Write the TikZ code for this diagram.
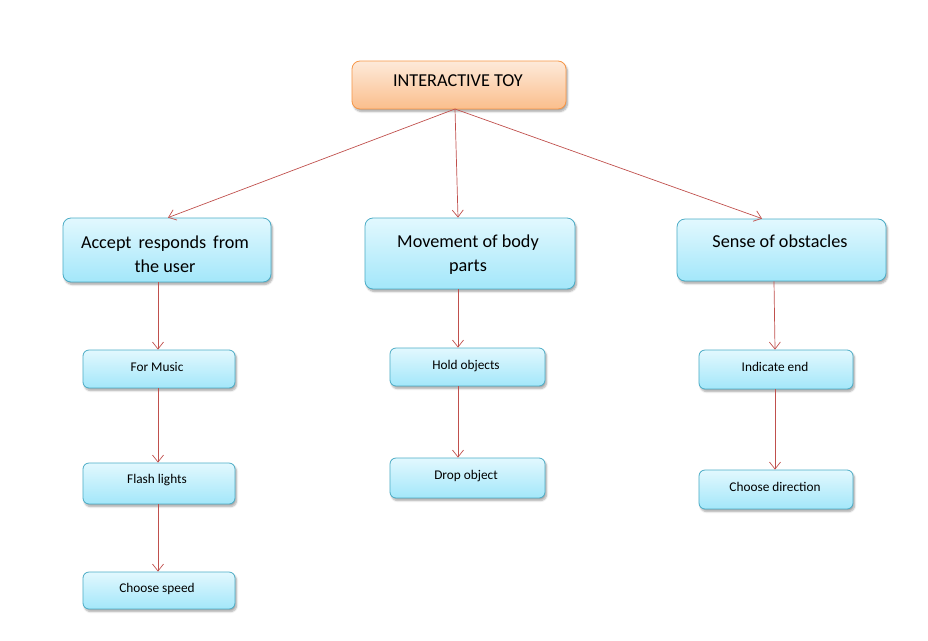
\documentclass[tikz,border=0pt]{standalone}
\usepackage{fontspec}
\setmainfont{Carlito}
\usetikzlibrary{arrows.meta,shadows.blur}
\definecolor{cyantop}{HTML}{E2F8FE}
\definecolor{cyanbot}{HTML}{A3E7FA}
\definecolor{cyanline}{HTML}{4BACC6}
\definecolor{orgtop}{HTML}{FDEADA}
\definecolor{orgbot}{HTML}{FBBE8C}
\definecolor{orgline}{HTML}{F79646}
\definecolor{linkred}{HTML}{C0504D}
\tikzset{
  box/.style={draw=cyanline, line width=0.8pt, rounded corners=8pt,
    top color=cyantop, bottom color=cyanbot,
    blur shadow={shadow xshift=1.5pt, shadow yshift=-2.5pt, shadow blur steps=6, shadow opacity=35},
    inner sep=0pt},
  small/.style={box, rounded corners=6pt, minimum width=152pt},
  rootbox/.style={box, draw=orgline, top color=orgtop, bottom color=orgbot},
  bigtxt/.style={font=\fontsize{18.2}{24}\selectfont, align=center, inner sep=0pt},
  smalltxt/.style={font=\fontsize{13.3}{15}\selectfont, inner sep=0pt},
  link/.style={draw=linkred, line width=0.7pt, -{Straight Barb[length=7pt,width=11pt]}}
}
\begin{document}
\begin{tikzpicture}[x=1pt,y=-1pt]
\useasboundingbox (0,0) rectangle (928,640);

% root
\node[rootbox, minimum width=214pt, minimum height=48pt] (root) at (459,85) {};
\node[bigtxt] (roott) at (458,81) {INTERACTIVE TOY};

% first level
\node[box, minimum width=208pt, minimum height=64pt] (l1) at (167,250) {};
\node[bigtxt] (l1t) at (165,254) {Accept\hspace{7pt}responds\hspace{7pt}from\\the user};
\node[box, minimum width=210pt, minimum height=71pt] (m1) at (470,253.5) {};
\node[bigtxt] (m1t) at (468,255) {Movement of body\\parts};
\node[box, minimum width=209pt, minimum height=62pt] (r1) at (781.5,250) {};
\node[bigtxt] (r1t) at (780,241) {Sense of obstacles};

% left branch
\node[small, minimum height=38pt] (l2) at (159,369) {};
\node[smalltxt] (l2t) at (157,367) {For Music};
\node[small, minimum height=41pt] (l3) at (159,483.5) {};
\node[smalltxt] (l3t) at (157,480) {Flash lights};
\node[small, minimum height=37pt] (l4) at (159,590.5) {};
\node[smalltxt] (l4t) at (157,589) {Choose speed};

% middle branch
\node[small, minimum width=155pt, minimum height=38pt] (m2) at (467.5,367) {};
\node[smalltxt] (m2t) at (466,366) {Hold objects};
\node[small, minimum width=155pt, minimum height=40pt] (m3) at (467.5,478) {};
\node[smalltxt] (m3t) at (466,476) {Drop object};

% right branch
\node[small, minimum width=154pt, minimum height=39pt] (r2) at (776,369.5) {};
\node[smalltxt] (r2t) at (775,367) {Indicate end};
\node[small, minimum width=154pt, minimum height=39pt] (r3) at (776,489.5) {};
\node[smalltxt] (r3t) at (775,487) {Choose direction};

% connectors
\coordinate (src) at (455,109);
\draw[link] (src) -- (l1.north -| 168,0);
\draw[link] (src) -- (m1.north -| 458,0);
\draw[link] (src) -- (r1.north -| 762,0);

\draw[link] (l1.south -| 158,0) -- (l2.north -| 158,0);
\draw[link] (l2.south -| 158,0) -- (l3.north -| 158,0);
\draw[link] (l3.south -| 158,0) -- (l4.north -| 158,0);

\draw[link] (m1.south -| 458,0) -- (m2.north -| 458,0);
\draw[link] (m2.south -| 458,0) -- (m3.north -| 458,0);

\draw[link] (r1.south -| 774,0) -- (r2.north -| 775,0);
\draw[link] (r2.south -| 775,0) -- (r3.north -| 775,0);
\end{tikzpicture}
\end{document}
